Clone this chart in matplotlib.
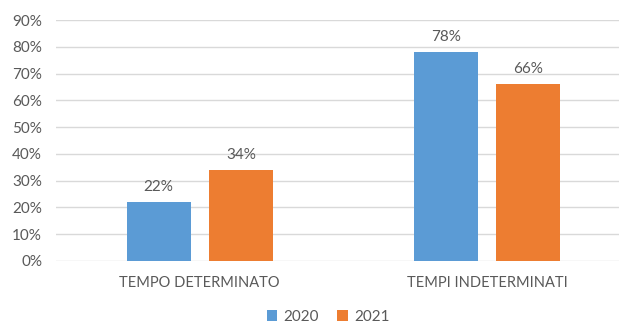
import numpy as np
import matplotlib.pyplot as plt
from matplotlib.ticker import PercentFormatter

plt.rcParams['font.family'] = ['Lato', 'DejaVu Sans']

categories = ['TEMPO DETERMINATO', 'TEMPI INDETERMINATI']
years = ['2020', '2021']
values_2020 = [22, 78]
values_2021 = [34, 66]
colors = ['#5B9BD5', '#ED7D31']
text_color = '#595959'

fig = plt.figure(figsize=(6.19, 3.23), dpi=100)
ax = fig.add_axes([56 / 619, 62 / 323, 575 / 619, 241 / 323])

x = np.arange(len(categories))
width = 0.223
offset = 0.143

for vals, col, yr, sign in [(values_2020, colors[0], years[0], -1),
                            (values_2021, colors[1], years[1], 1)]:
    bars = ax.bar(x + sign * offset, vals, width, color=col, label=yr, zorder=3)
    for b, v in zip(bars, vals):
        ax.annotate(f'{v}%', (b.get_x() + b.get_width() / 2, v),
                    xytext=(0, 6), textcoords='offset points',
                    ha='center', va='bottom', fontsize=11, color=text_color)

ax.set_xlim(-0.5, 1.5)
ax.set_ylim(0, 90)
ax.set_yticks(np.arange(0, 91, 10))
ax.yaxis.set_major_formatter(PercentFormatter(decimals=0))
ax.set_xticks(x)
ax.set_xticklabels(categories)
ax.grid(axis='y', color='#D9D9D9', linewidth=1, zorder=0)
for s in ax.spines.values():
    s.set_visible(False)
ax.tick_params(axis='both', length=0, colors=text_color, labelsize=11)
ax.tick_params(axis='x', pad=11, labelsize=10.5)
ax.tick_params(axis='y', pad=10)

fig.legend(loc='lower center', bbox_to_anchor=(0.53, -0.045), ncol=2, frameon=False,
           fontsize=11, labelcolor=text_color, handlelength=0.7, handleheight=0.7,
           columnspacing=1.2, handletextpad=0.4)

fig.savefig('out.png', dpi=100)
